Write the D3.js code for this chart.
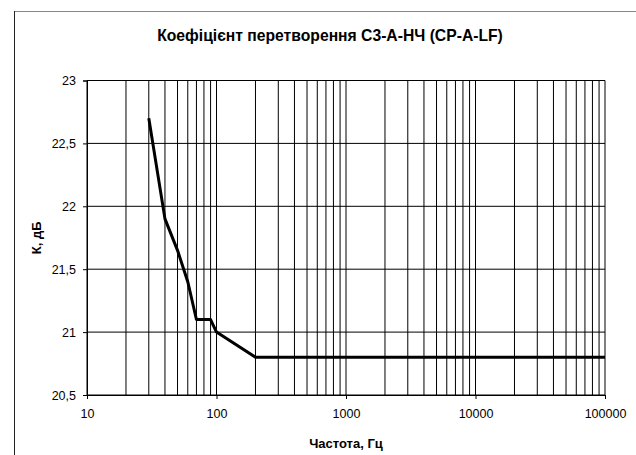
<!DOCTYPE html>
<html>
<head>
<meta charset="utf-8">
<script src="https://cdn.jsdelivr.net/npm/d3@7"></script>
<style>
  body { margin: 0; background: #fff; }
  text { font-family: "Liberation Sans", Arial, sans-serif; fill: #000; }
</style>
</head>
<body>
<div id="chart"></div>
<script>
// data
var freq = [30, 40, 50, 60, 70, 80, 90, 100, 200, 500, 1000, 10000, 100000];
var gain = [22.7, 21.9, 21.65, 21.4, 21.1, 21.1, 21.1, 21.0, 20.8, 20.8, 20.8, 20.8, 20.8];
var xTicks = [10, 100, 1000, 10000, 100000];
var yTicks = [20.5, 21, 21.5, 22, 22.5, 23];

var W = 636, H = 455;
var margin = {top: 80.5, right: 31, bottom: 60, left: 87},
    width = W - margin.left - margin.right,
    height = H - margin.top - margin.bottom;

var svg = d3.select("#chart")
  .append("svg")
    .attr("width", W)
    .attr("height", H);

// chart frame (only top and left edges fall inside the picture)
svg.append("line")
  .attr("x1", 14).attr("x2", W)
  .attr("y1", 11.5).attr("y2", 11.5)
  .attr("stroke", "#888");
svg.append("line")
  .attr("x1", 14.5).attr("x2", 14.5)
  .attr("y1", 11).attr("y2", H)
  .attr("stroke", "#222");

var g = svg.append("g")
  .attr("transform", "translate(" + margin.left + "," + margin.top + ")");

var x = d3.scaleLog().domain([10, 100000]).range([0, width]);
var y = d3.scaleLinear().domain([20.5, 23]).range([height, 0]);

// vertical grid: 1..9 in every decade
var minor = [];
for (var e = 1; e < 5; e++) {
  for (var m = 1; m < 10; m++) minor.push(m * Math.pow(10, e));
}
minor.push(100000);

g.append("g").selectAll("line")
  .data(minor)
  .enter().append("line")
    .attr("x1", d => x(d)).attr("x2", d => x(d))
    .attr("y1", 0).attr("y2", height)
    .attr("stroke", "#000")
    .attr("stroke-width", 1);

// horizontal grid
g.append("g").selectAll("line")
  .data(yTicks)
  .enter().append("line")
    .attr("x1", 0).attr("x2", width)
    .attr("y1", d => y(d)).attr("y2", d => y(d))
    .attr("stroke", "#000")
    .attr("stroke-width", 1);

var fmt = d => String(d).replace(".", ",");

// axes
var xAxis = g.append("g")
  .attr("transform", "translate(0," + height + ")")
  .call(d3.axisBottom(x).tickValues(xTicks).tickFormat(d3.format("d")).tickSize(4).tickPadding(10));
var yAxis = g.append("g")
  .call(d3.axisLeft(y).tickValues(yTicks).tickFormat(fmt).tickSize(4).tickPadding(7));

[xAxis, yAxis].forEach(function(a) {
  a.select(".domain").attr("stroke", "#000");
  a.selectAll(".tick line").attr("stroke", "#000");
  a.selectAll("text")
    .style("font-family", "'Liberation Sans', Arial, sans-serif")
    .style("font-size", "12.5px")
    .attr("fill", "#000");
});

// curve
var pts = freq.map((f, i) => [f, gain[i]]);
g.append("path")
  .datum(pts)
  .attr("fill", "none")
  .attr("stroke", "#000")
  .attr("stroke-width", 3)
  .attr("stroke-linejoin", "round")
  .attr("d", d3.line().x(d => x(d[0])).y(d => y(d[1])));

// titles
svg.append("text")
  .attr("x", 330).attr("y", 41)
  .attr("text-anchor", "middle")
  .style("font-size", "15.7px")
  .style("font-weight", "bold")
  .text("Коефіцієнт перетворення С3-А-НЧ (CP-A-LF)");

svg.append("text")
  .attr("x", margin.left + width / 2).attr("y", 448)
  .attr("text-anchor", "middle")
  .style("font-size", "13px")
  .style("font-weight", "bold")
  .text("Частота, Гц");

svg.append("text")
  .attr("transform", "translate(41," + (margin.top + height / 2) + ") rotate(-90)")
  .attr("text-anchor", "middle")
  .style("font-size", "13px")
  .style("font-weight", "bold")
  .text("К, дБ");
</script>
</body>
</html>
